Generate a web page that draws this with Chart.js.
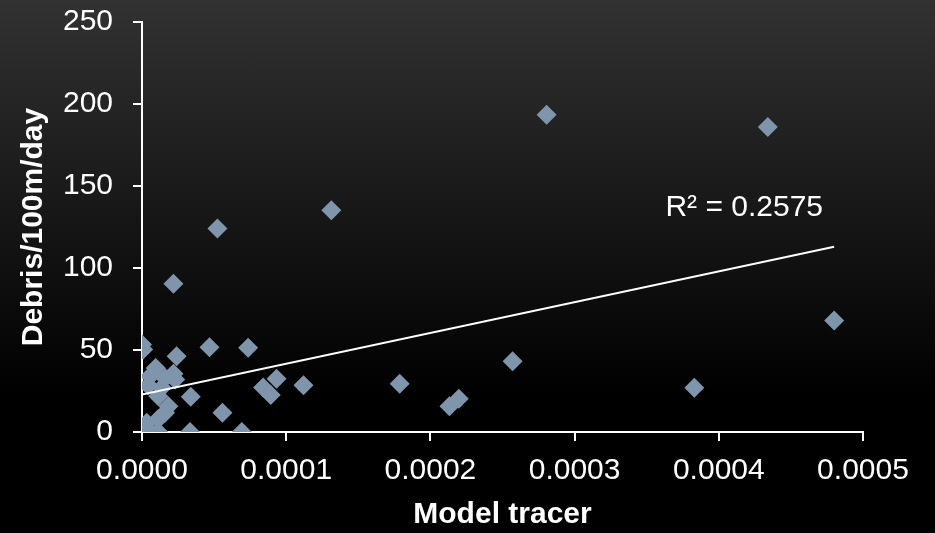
<!DOCTYPE html>
<html lang="en">
<head>
    <meta charset="UTF-8">
    <title>Debris vs Model tracer</title>
    <script src="https://cdn.jsdelivr.net/npm/chart.js"></script>
    <style>
        html, body {
            margin: 0;
            padding: 0;
        }
        body {
            width: 935px;
            height: 533px;
            background: linear-gradient(to bottom, #323232 0%, #000 74%, #000 100%);
        }
        #wrap {
            position: relative;
            width: 935px;
            height: 533px;
        }
    </style>
</head>
<body>
<div id="wrap">
    <canvas id="scatterChart"></canvas>
</div>

<script>
    // values
    const tracerX = [
        0.0000218, 0.0000000, 0.0000008, 0.0000240, 0.0000468, 0.0000736,
        0.0000095, 0.0000218, 0.0000056, 0.0000160, 0.0000230, 0.0000044,
        0.0000137, 0.0000113, 0.0000183, 0.0000160, 0.0000113, 0.0000010,
        0.0000056, 0.0000113, 0.0000000, 0.0000338, 0.0000558, 0.0000333,
        0.0000692, 0.0000840, 0.0000893, 0.0000933, 0.0001120, 0.0001787,
        0.0002132, 0.0002197, 0.0002570, 0.0000523, 0.0001313, 0.0002806,
        0.0004340, 0.0003830, 0.0004800, 0.0000033
    ];
    const debrisY = [
        90.4, 53.4, 50.3, 46.2, 51.7, 51.3,
        39.0, 35.5, 34.0, 33.0, 32.0, 28.3,
        27.0, 21.8, 15.7, 11.7, 8.0, 2.5,
        0.5, 0.0, 0.0, 21.5, 11.7, 0.0,
        0.0, 27.2, 22.6, 32.4, 28.5, 29.4,
        15.7, 20.2, 43.2, 124.1, 135.2, 193.4,
        185.9, 27.0, 68.0, 5.6
    ];
    const xTicks = [0, 0.0001, 0.0002, 0.0003, 0.0004, 0.0005];
    const yTicks = [0, 50, 100, 150, 200, 250];
    // linear trendline as shown in the original (intercept, slope)
    const trendIntercept = 22.9;
    const trendSlope = 187700;
    const rSquaredText = 'R\u00b2 = 0.2575';

    const points = tracerX.map((x, i) => ({x: x, y: debrisY[i]}));

    const xMin = Math.min(...tracerX);
    const xMax = Math.max(...tracerX);
    const trendPoints = [
        {x: xMin, y: trendIntercept + trendSlope * xMin},
        {x: xMax, y: trendIntercept + trendSlope * xMax}
    ];

    const tickFont = {family: 'Liberation Sans, Arial, sans-serif', size: 30};
    const titleFont = {family: 'Liberation Sans, Arial, sans-serif', size: 30, weight: 'bold'};

    // R² label drawn next to the trendline
    const rSquaredLabel = {
        id: 'rSquaredLabel',
        afterDatasetsDraw(chart) {
            const ctx = chart.ctx;
            const xs = chart.scales.x, ys = chart.scales.y;
            ctx.save();
            ctx.font = '30px "Liberation Sans", Arial, sans-serif';
            ctx.fillStyle = '#ffffff';
            ctx.textAlign = 'left';
            ctx.textBaseline = 'middle';
            ctx.fillText(rSquaredText, xs.getPixelForValue(0.000363), ys.getPixelForValue(137));
            ctx.restore();
        }
    };

    new Chart(document.getElementById('scatterChart'), {
        type: 'scatter',
        data: {
            datasets: [
                {
                    type: 'line',
                    label: 'Linear trend',
                    data: trendPoints,
                    borderColor: '#ffffff',
                    borderWidth: 2,
                    pointRadius: 0,
                    fill: false
                },
                {
                    label: 'Debris',
                    data: points,
                    pointStyle: 'rectRot',
                    pointRadius: 10,
                    pointHoverRadius: 10,
                    backgroundColor: '#7e95ac',
                    borderWidth: 0
                }
            ]
        },
        options: {
            responsive: true,
            maintainAspectRatio: false,
            animation: false,
            layout: {
                padding: {top: 22, right: 72, bottom: 0, left: 0}
            },
            plugins: {
                legend: {display: false},
                tooltip: {enabled: false}
            },
            scales: {
                x: {
                    type: 'linear',
                    min: 0,
                    max: 0.0005,
                    afterBuildTicks: (axis) => { axis.ticks = xTicks.map(v => ({value: v})); },
                    afterFit: (axis) => {
                        axis.height = 101;
                        axis.paddingLeft = 0;
                        axis.paddingRight = 0;
                    },
                    ticks: {
                        color: '#ffffff',
                        font: tickFont,
                        padding: 12,
                        maxRotation: 0,
                        callback: (v) => Number(v).toFixed(4)
                    },
                    grid: {
                        drawOnChartArea: false,
                        drawTicks: true,
                        tickLength: 9,
                        color: '#ffffff',
                        lineWidth: 2
                    },
                    border: {color: '#ffffff', width: 2},
                    title: {
                        display: true,
                        text: 'Model tracer',
                        color: '#ffffff',
                        font: titleFont,
                        padding: {top: 0, bottom: 0}
                    }
                },
                y: {
                    type: 'linear',
                    min: 0,
                    max: 250,
                    afterBuildTicks: (axis) => { axis.ticks = yTicks.map(v => ({value: v})); },
                    afterFit: (axis) => {
                        axis.width = 142;
                        axis.paddingTop = 0;
                        axis.paddingBottom = 0;
                    },
                    ticks: {
                        color: '#ffffff',
                        font: tickFont,
                        padding: 20
                    },
                    grid: {
                        drawOnChartArea: false,
                        drawTicks: true,
                        tickLength: 9,
                        color: '#ffffff',
                        lineWidth: 2
                    },
                    border: {color: '#ffffff', width: 2},
                    title: {
                        display: true,
                        text: 'Debris/100m/day',
                        color: '#ffffff',
                        font: titleFont,
                        padding: {top: 16, bottom: 0}
                    }
                }
            }
        },
        plugins: [rSquaredLabel]
    });
</script>
</body>
</html>
